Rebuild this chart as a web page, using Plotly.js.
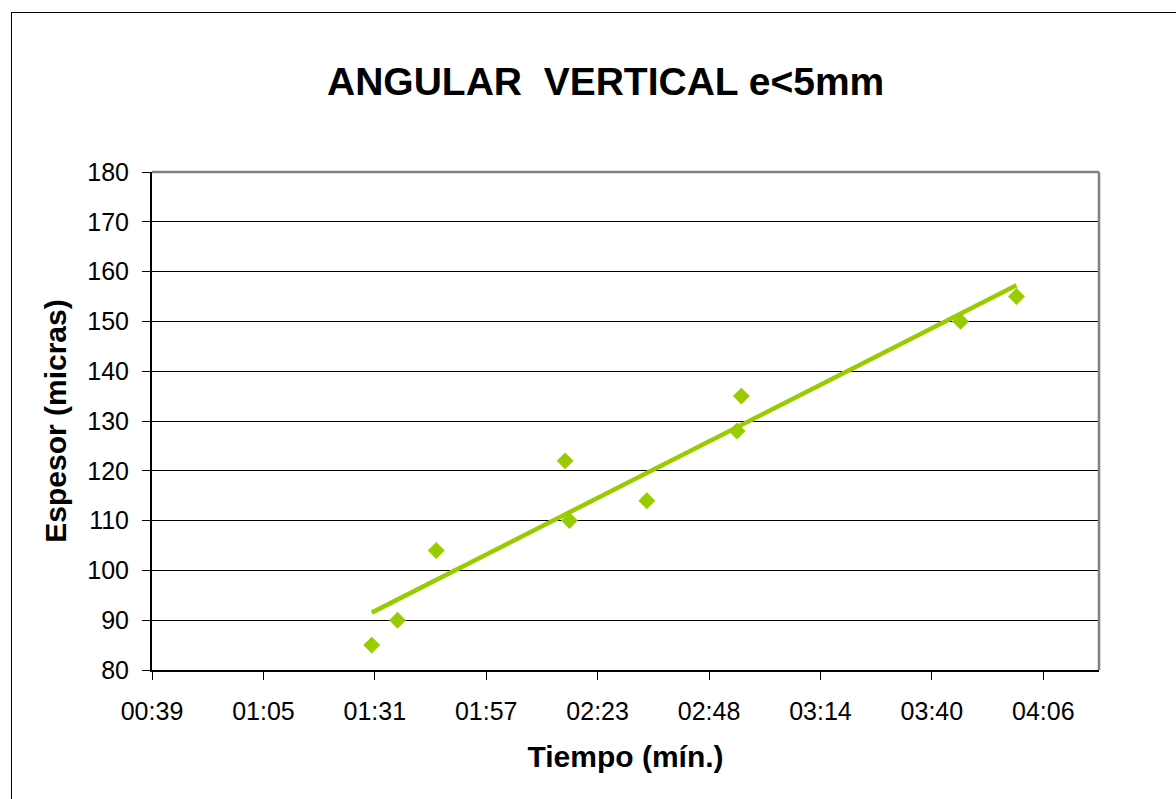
<!DOCTYPE html>
<html>
<head>
<meta charset="utf-8">
<script src="https://cdn.plot.ly/plotly-3.0.1.min.js"></script>
<style>
  html, body { margin: 0; padding: 0; background: #fff; }
  #wrap { position: relative; width: 1176px; height: 799px; overflow: hidden; }
  #chart { width: 1176px; height: 799px; }
  #frame { position: absolute; left: 11px; top: 12px; width: 1200px; height: 820px;
           border-left: 1.5px solid #000; border-top: 1.5px solid #000; pointer-events: none; }
</style>
</head>
<body>
<div id="wrap">
  <div id="chart"></div>
  <div id="frame"></div>
</div>
<script>
// Data (time in seconds, thickness in microns)
const tiempoSeg = [90, 96, 105, 135, 136, 154, 175, 176, 227, 240];
const espesor   = [85, 90, 104, 122, 110, 114, 128, 135, 150, 155];
const xTickVals = [38.88, 64.8, 90.72, 116.64, 142.56, 168.48, 194.4, 220.32, 246.24];
const xTickText = ['00:39', '01:05', '01:31', '01:57', '02:23', '02:48', '03:14', '03:40', '04:06'];
const yTickVals = [80, 90, 100, 110, 120, 130, 140, 150, 160, 170, 180];

// Linear trendline (least squares)
const n = tiempoSeg.length;
const mx = tiempoSeg.reduce((a, b) => a + b, 0) / n;
const my = espesor.reduce((a, b) => a + b, 0) / n;
let sxy = 0, sxx = 0;
for (let i = 0; i < n; i++) {
  sxy += (tiempoSeg[i] - mx) * (espesor[i] - my);
  sxx += (tiempoSeg[i] - mx) ** 2;
}
const slope = sxy / sxx;
const icpt = my - slope * mx;
const xMin = Math.min(...tiempoSeg), xMax = Math.max(...tiempoSeg);
const trendX = [xMin, xMax];
const trendY = trendX.map(x => icpt + slope * x);

const green = '#99CC00';
const font = 'Liberation Sans, Arial, sans-serif';

const traces = [
  { x: trendX, y: trendY, type: 'scatter', mode: 'lines',
    line: { color: green, width: 4.5 }, hoverinfo: 'skip' },
  { x: tiempoSeg, y: espesor, type: 'scatter', mode: 'markers',
    marker: { symbol: 'diamond', size: 13, color: green, line: { width: 0 } } }
];

const layout = {
  width: 1176, height: 799,
  margin: { l: 152, r: 77, t: 172, b: 129 },
  paper_bgcolor: '#fff', plot_bgcolor: '#fff',
  showlegend: false,
  title: { text: '<b>ANGULAR  VERTICAL e&lt;5mm</b>', x: 0.515, xanchor: 'center',
           y: 1 - 81 / 799, yanchor: 'middle',
           font: { family: font, size: 39, color: '#000' } },
  xaxis: {
    range: [38.88, 259.2], tickmode: 'array', tickvals: xTickVals, ticktext: xTickText,
    showgrid: false, zeroline: false, showline: true, linecolor: '#000', linewidth: 2,
    ticks: 'outside', ticklen: 8, tickcolor: '#000', tickwidth: 1,
    ticklabelstandoff: 10,
    tickfont: { family: font, size: 25, color: '#000' },
    title: { text: '<b>Tiempo (mín.)</b>', font: { family: font, size: 30, color: '#000' }, standoff: 22 }
  },
  yaxis: {
    range: [80, 180], tickmode: 'array', tickvals: yTickVals,
    showgrid: true, gridcolor: '#000', gridwidth: 1, zeroline: false,
    showline: true, linecolor: '#000', linewidth: 2,
    ticks: 'outside', ticklen: 8, tickcolor: '#000', tickwidth: 1,
    ticklabelstandoff: 8,
    tickfont: { family: font, size: 25, color: '#000' },
    title: { text: '<b>Espesor (micras)</b>', font: { family: font, size: 30, color: '#000' }, standoff: 12 }
  },
  shapes: [
    { type: 'line', xref: 'paper', yref: 'paper', x0: 0, x1: 1, y0: 1, y1: 1,
      line: { color: '#808080', width: 2.5 }, layer: 'above' },
    { type: 'line', xref: 'paper', yref: 'paper', x0: 1, x1: 1, y0: 0, y1: 1,
      line: { color: '#808080', width: 2.5 }, layer: 'above' }
  ]
};

Plotly.newPlot('chart', traces, layout, { displayModeBar: false, staticPlot: true });
</script>
</body>
</html>
